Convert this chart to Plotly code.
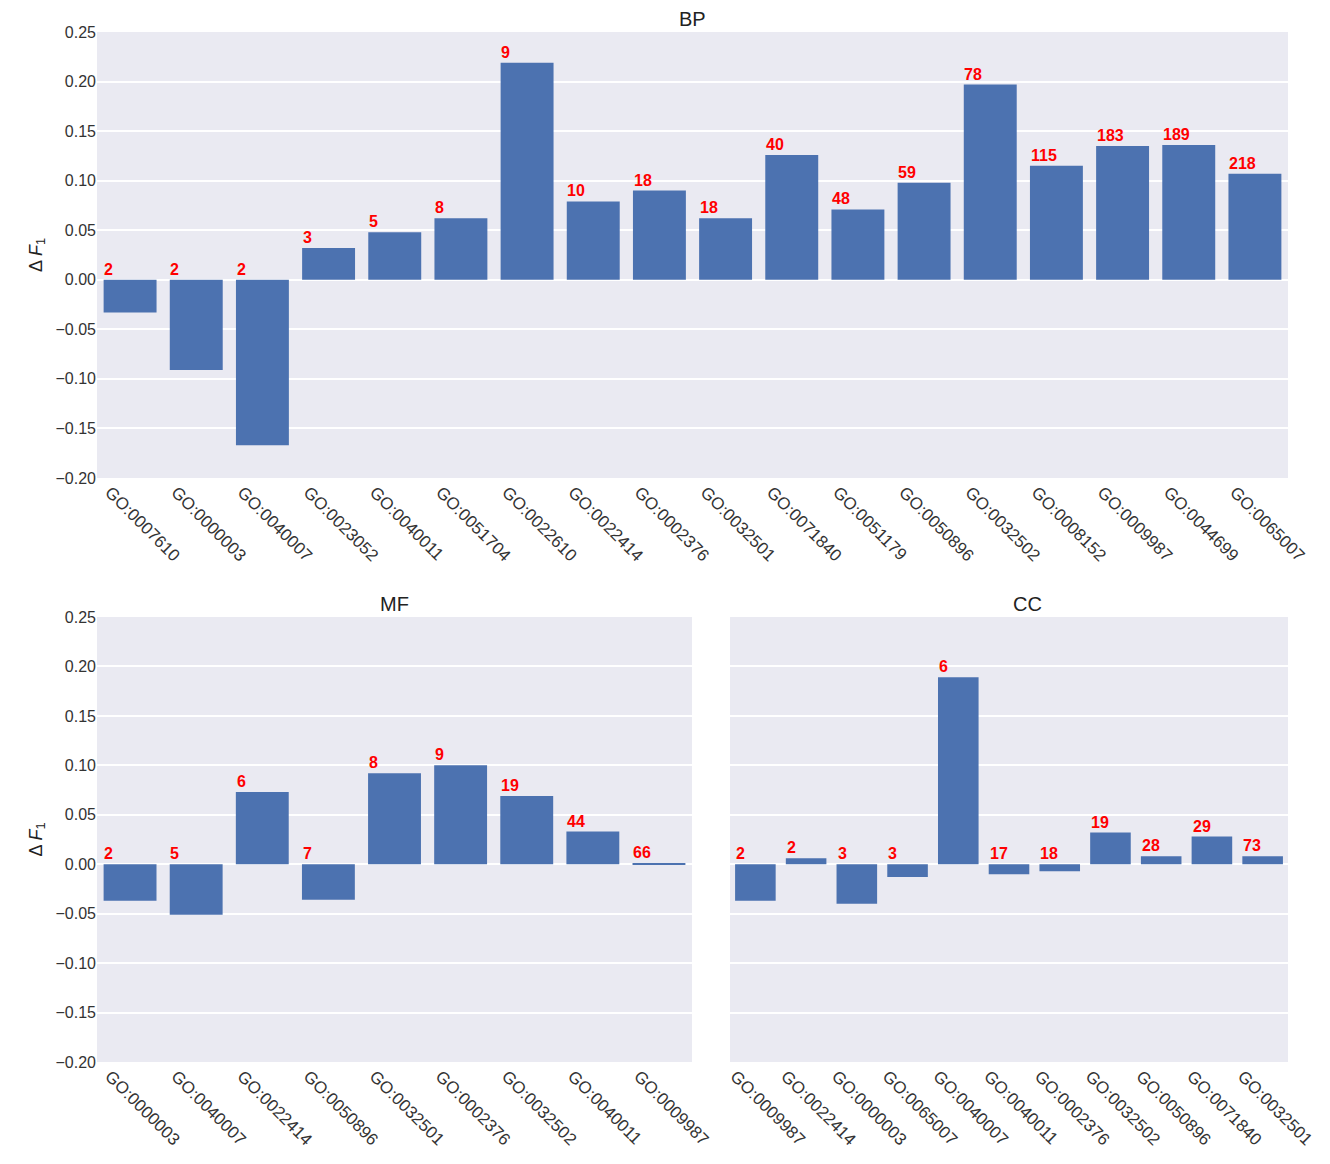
import plotly.graph_objects as go

bp_terms = ["GO:0007610", "GO:0000003", "GO:0040007", "GO:0023052", "GO:0040011", "GO:0051704",
            "GO:0022610", "GO:0022414", "GO:0002376", "GO:0032501", "GO:0071840", "GO:0051179",
            "GO:0050896", "GO:0032502", "GO:0008152", "GO:0009987", "GO:0044699", "GO:0065007"]
bp_delta = [-0.033, -0.091, -0.167, 0.032, 0.048, 0.062, 0.219, 0.079, 0.090, 0.062, 0.126, 0.071,
            0.098, 0.197, 0.115, 0.135, 0.136, 0.107]
bp_count = [2, 2, 2, 3, 5, 8, 9, 10, 18, 18, 40, 48, 59, 78, 115, 183, 189, 218]

mf_terms = ["GO:0000003", "GO:0040007", "GO:0022414", "GO:0050896", "GO:0032501", "GO:0002376",
            "GO:0032502", "GO:0040011", "GO:0009987"]
mf_delta = [-0.037, -0.051, 0.073, -0.036, 0.092, 0.100, 0.069, 0.033, 0.001]
mf_count = [2, 5, 6, 7, 8, 9, 19, 44, 66]

cc_terms = ["GO:0009987", "GO:0022414", "GO:0000003", "GO:0065007", "GO:0040007", "GO:0040011",
            "GO:0002376", "GO:0032502", "GO:0050896", "GO:0071840", "GO:0032501"]
cc_delta = [-0.037, 0.006, -0.040, -0.013, 0.189, -0.010, -0.007, 0.032, 0.008, 0.028, 0.008]
cc_count = [2, 2, 3, 3, 6, 17, 18, 19, 28, 29, 73]

panels = [("BP", bp_terms, bp_delta, bp_count, "x", "y"),
          ("MF", mf_terms, mf_delta, mf_count, "x2", "y2"),
          ("CC", cc_terms, cc_delta, cc_count, "x3", "y3")]

fig = go.Figure()
ann = []
for name, terms, delta, count, xa, ya in panels:
    fig.add_trace(go.Bar(x=list(range(len(terms))), y=delta, marker_color="#4C72B0",
                         marker_line_width=0, xaxis=xa, yaxis=ya, showlegend=False))
    for i, (v, c) in enumerate(zip(delta, count)):
        ann.append(dict(x=i - 0.42, y=max(v, 0), xref=xa, yref=ya, text=f"<b>{c}</b>",
                        showarrow=False, xanchor="left", yanchor="bottom",
                        font=dict(color="#FF0000", size=16)))

bg = "#EAEAF2"
def xaxis(terms, dom):
    return dict(domain=dom, tickmode="array", tickvals=list(range(len(terms))), ticktext=terms,
                tickangle=45, range=[-0.5, len(terms) - 0.5], showgrid=False, zeroline=False,
                automargin=False, ticklabelshift=-20, tickfont=dict(size=17, color="#333"))
def yaxis(dom, show=True, anchor="x"):
    return dict(domain=dom, range=[-0.2, 0.25], dtick=0.05, tickformat=".2f", gridcolor="white",
                gridwidth=1.5, zeroline=False, showticklabels=show, anchor=anchor,
                automargin=False, tickfont=dict(size=16, color="#333"),
                title=dict(text="Δ <i>F</i><sub>1</sub>", font=dict(size=18), standoff=8) if show else None)

top = [0.567, 1.0]
bot = [0.0, 0.432]
fig.update_layout(
    width=1330, height=1164, paper_bgcolor="white", plot_bgcolor=bg,
    font=dict(family="Liberation Sans, Arial", color="#222"),
    margin=dict(l=89, r=50, t=24, b=110), bargap=0.2,
    xaxis=xaxis(bp_terms, [0, 1]), yaxis=yaxis(top),
    xaxis2=dict(xaxis(mf_terms, [0, 0.4996]), anchor="y2"), yaxis2=yaxis(bot, True, "x2"),
    xaxis3=dict(xaxis(cc_terms, [0.5315, 1]), anchor="y3"), yaxis3=yaxis(bot, False, "x3"),
)
for t, x, y in [("BP", 0.5, 1.0), ("MF", 0.25, 0.432), ("CC", 0.781, 0.432)]:
    ann.append(dict(x=x, y=y, xref="paper", yref="paper", text=t, showarrow=False,
                    xanchor="center", yanchor="bottom", font=dict(size=20, color="#222")))
fig.update_layout(annotations=ann)
fig.write_html("out.html")
